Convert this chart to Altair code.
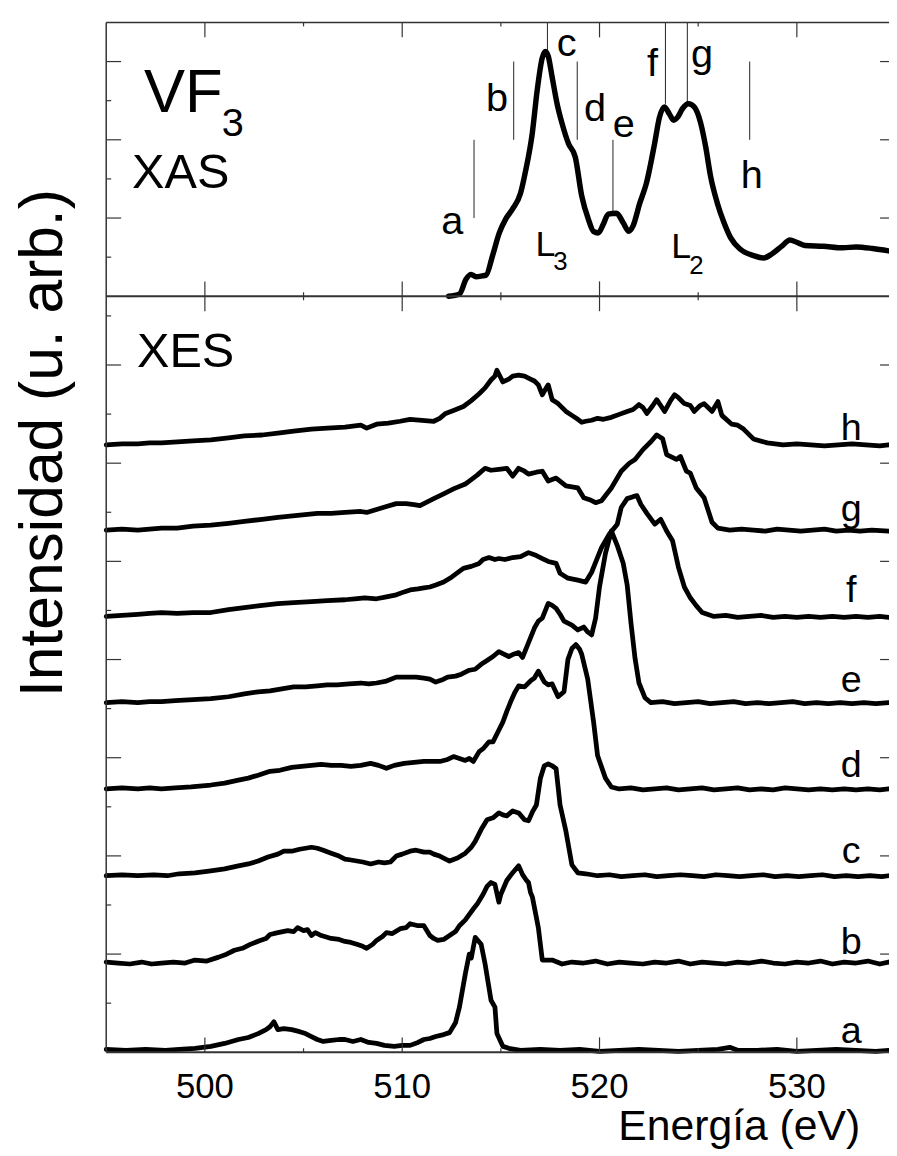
import altair as alt
import pandas as pd

# ---------------- data ----------------
ENERGY_MIN, ENERGY_MAX = 495.0, 534.67

# XAS spectrum (energy eV, intensity arb.)
XAS = [(512.35, 0.0), (512.9, 0.03), (513.24, 0.22), (513.49, 0.28), (513.74, 0.25), (514.05, 0.26),
       (514.25, 0.27), (514.58, 0.52), (514.92, 0.81), (515.25, 0.99), (515.58, 1.11), (516.0, 1.32),
       (516.26, 1.61), (516.59, 2.08), (516.84, 2.63), (517.1, 3.05), (517.26, 3.13), (517.4, 3.07),
       (517.6, 2.80), (517.85, 2.46), (518.1, 2.21), (518.43, 1.95), (518.77, 1.78), (519.1, 1.28),
       (519.44, 0.98), (519.69, 0.83), (519.94, 0.81), (520.19, 0.92), (520.44, 1.05), (520.86, 1.06),
       (521.2, 0.94), (521.48, 0.83), (521.7, 0.90), (522.04, 1.19), (522.37, 1.44), (522.79, 1.95),
       (523.04, 2.29), (523.29, 2.42), (523.54, 2.33), (523.76, 2.25), (523.96, 2.29), (524.21, 2.40),
       (524.5, 2.46), (524.8, 2.42), (525.13, 2.21), (525.38, 1.91), (525.63, 1.53), (525.97, 1.19),
       (526.31, 0.94), (526.64, 0.75), (527.14, 0.60), (527.81, 0.52), (528.32, 0.49), (528.73, 0.54),
       (529.24, 0.64), (529.65, 0.72), (529.99, 0.69), (530.41, 0.65), (531.33, 0.64), (532.34, 0.62),
       (533.0, 0.63), (533.85, 0.61), (534.65, 0.58)]

# XAS excitation energies (vertical markers) and their letters
MARK_LETTERS = ["a", "b", "c", "d", "e", "f", "g", "h"]
MARK_E = [513.64, 515.65, 517.36, 518.87, 520.68, 523.34, 524.45, 527.61]
MARK_LO = [1.0, 2.0, 3.13, 2.0, 1.07, 2.46, 2.46, 2.0]
MARK_HI = [2.0, 3.0, 3.5, 3.0, 2.0, 3.5, 3.5, 3.0]
LETTER_E = [512.54, 514.80, 518.34, 519.77, 521.23, 522.69, 525.20, 527.71]
LETTER_Y = [0.79, 2.37, 3.07, 2.24, 2.03, 2.81, 2.93, 1.38]

# XES spectra (energy eV, intensity above own baseline)
XES_A = [(495.0, 0.01), (496.0, 0.0), (497.0, 0.01), (498.0, 0.0), (498.7, 0.01), (499.5, 0.02), (500.3, 0.04),
         (501.0, 0.07), (501.7, 0.11), (502.2, 0.13), (502.7, 0.17), (503.1, 0.21), (503.3, 0.24), (503.5, 0.29),
         (503.7, 0.21), (504.0, 0.22), (504.4, 0.21), (504.8, 0.19), (505.1, 0.17), (505.4, 0.14), (505.7, 0.11),
         (506.0, 0.09), (506.4, 0.10), (506.8, 0.11), (507.1, 0.11), (507.5, 0.09), (507.9, 0.11), (508.3, 0.08),
         (508.7, 0.07), (509.1, 0.05), (509.6, 0.04), (510.0, 0.05), (510.4, 0.05), (510.8, 0.08), (511.1, 0.11),
         (511.4, 0.12), (511.7, 0.14), (512.1, 0.16), (512.4, 0.18), (512.7, 0.28), (512.9, 0.44), (513.2, 0.78),
         (513.4, 0.98), (513.5, 0.94), (513.7, 1.15), (514.0, 1.08), (514.2, 0.88), (514.5, 0.51), (514.7, 0.44),
         (514.8, 0.17), (515.1, 0.04), (515.4, 0.02), (516.0, 0.0), (517.0, 0.01), (518.0, 0.0), (519.0, 0.01),
         (520.0, -0.01), (521.0, 0.0), (522.0, 0.01), (523.0, 0.0), (524.0, -0.01), (525.0, 0.0), (526.0, 0.01),
         (526.6, 0.03), (527.0, 0.0), (528.0, 0.0), (529.0, 0.01), (530.0, -0.01), (531.0, 0.0), (532.0, 0.01),
         (533.0, 0.0), (534.0, -0.01), (534.65, 0.0)]
XES_B = [(495.0, 0.01), (495.6, 0.0), (496.2, -0.01), (496.8, 0.01), (497.3, -0.01), (497.8, 0.0), (498.4, 0.01),
         (499.0, 0.0), (499.5, 0.03), (500.1, 0.02), (500.7, 0.06), (501.1, 0.09), (501.5, 0.13), (501.9, 0.15),
         (502.3, 0.19), (502.8, 0.23), (503.1, 0.25), (503.3, 0.29), (503.7, 0.31), (504.2, 0.33), (504.5, 0.32),
         (504.7, 0.36), (505.0, 0.33), (505.2, 0.34), (505.4, 0.28), (505.6, 0.31), (505.9, 0.28), (506.4, 0.25),
         (506.8, 0.24), (507.1, 0.22), (507.4, 0.21), (507.7, 0.19), (508.0, 0.17), (508.2, 0.15), (508.5, 0.19),
         (508.7, 0.23), (509.0, 0.27), (509.2, 0.31), (509.5, 0.30), (509.9, 0.35), (510.2, 0.36), (510.4, 0.40),
         (510.8, 0.38), (511.1, 0.38), (511.4, 0.28), (511.6, 0.25), (511.8, 0.23), (512.1, 0.24), (512.4, 0.28),
         (512.7, 0.32), (512.9, 0.38), (513.2, 0.44), (513.6, 0.55), (513.8, 0.60), (514.1, 0.70), (514.3, 0.78),
         (514.5, 0.82), (514.7, 0.80), (514.9, 0.62), (515.0, 0.70), (515.3, 0.84), (515.6, 0.92), (515.9, 0.99),
         (516.1, 0.90), (516.3, 0.84), (516.4, 0.82), (516.5, 0.72), (516.6, 0.67), (516.9, 0.36), (517.1, 0.03),
         (517.6, 0.03), (518.1, -0.01), (518.6, 0.01), (519.2, 0.0), (519.8, 0.02), (520.4, -0.01), (521.0, 0.01),
         (521.6, 0.0), (522.2, -0.01), (522.8, 0.01), (523.4, 0.0), (524.0, 0.02), (524.6, -0.01), (525.2, 0.01),
         (525.8, 0.0), (526.4, -0.01), (527.0, 0.01), (527.6, 0.0), (528.2, 0.02), (528.8, 0.0), (529.4, -0.01),
         (530.0, 0.01), (530.6, 0.0), (531.2, 0.02), (531.8, -0.01), (532.4, 0.01), (533.0, 0.0), (533.6, 0.02),
         (534.2, -0.01), (534.65, 0.01)]
XES_C = [(495.0, 0.0), (495.8, 0.01), (496.6, 0.0), (497.4, 0.01), (498.1, 0.0), (498.7, 0.02), (499.5, 0.03),
         (500.3, 0.05), (501.0, 0.07), (501.7, 0.10), (502.2, 0.12), (502.7, 0.15), (503.2, 0.19), (503.7, 0.22),
         (504.0, 0.25), (504.4, 0.25), (504.8, 0.27), (505.1, 0.28), (505.4, 0.29), (505.7, 0.28), (506.0, 0.26),
         (506.4, 0.23), (506.8, 0.20), (507.1, 0.17), (507.4, 0.16), (507.7, 0.15), (508.0, 0.14), (508.4, 0.12),
         (508.8, 0.14), (509.1, 0.13), (509.4, 0.14), (509.7, 0.20), (510.0, 0.22), (510.4, 0.25), (510.7, 0.26),
         (511.1, 0.24), (511.4, 0.24), (511.6, 0.22), (511.9, 0.20), (512.1, 0.18), (512.4, 0.15), (512.8, 0.18),
         (513.2, 0.23), (513.5, 0.29), (513.7, 0.35), (514.0, 0.47), (514.3, 0.57), (514.6, 0.59), (514.9, 0.64),
         (515.1, 0.62), (515.3, 0.61), (515.6, 0.66), (515.9, 0.64), (516.2, 0.57), (516.4, 0.56), (516.6, 0.65),
         (516.8, 0.72), (517.0, 0.99), (517.2, 1.12), (517.4, 1.14), (517.6, 1.12), (517.8, 1.09), (518.0, 0.72),
         (518.3, 0.45), (518.6, 0.11), (518.9, 0.03), (519.3, 0.02), (519.9, 0.0), (520.5, 0.01), (521.1, -0.01),
         (521.7, 0.0), (522.3, 0.01), (522.9, -0.01), (523.5, 0.0), (524.1, 0.01), (524.7, 0.0), (525.3, -0.01),
         (525.9, 0.01), (526.5, 0.0), (527.1, -0.01), (527.7, 0.0), (528.3, 0.01), (528.9, -0.01), (529.5, 0.0),
         (530.1, -0.01), (530.7, 0.0), (531.3, 0.01), (531.9, -0.01), (532.5, 0.0), (533.1, -0.01), (533.7, 0.0),
         (534.3, -0.01), (534.65, 0.0)]
XES_D = [(495.0, 0.0), (495.8, 0.01), (496.6, 0.0), (497.2, 0.01), (497.8, 0.0), (498.5, 0.01), (499.3, 0.02),
         (500.3, 0.04), (501.0, 0.06), (501.7, 0.09), (502.2, 0.11), (502.7, 0.14), (503.3, 0.18), (503.8, 0.19),
         (504.4, 0.22), (504.9, 0.23), (505.4, 0.24), (505.9, 0.25), (506.4, 0.24), (506.9, 0.24), (507.4, 0.23),
         (507.9, 0.24), (508.4, 0.26), (508.8, 0.24), (509.2, 0.21), (509.6, 0.24), (510.1, 0.26), (510.6, 0.27),
         (511.1, 0.28), (511.6, 0.28), (511.9, 0.28), (512.3, 0.30), (512.6, 0.33), (512.9, 0.31), (513.2, 0.29),
         (513.4, 0.31), (513.6, 0.28), (513.9, 0.38), (514.1, 0.41), (514.4, 0.48), (514.6, 0.48), (514.9, 0.60),
         (515.1, 0.68), (515.3, 0.79), (515.5, 0.89), (515.7, 0.98), (515.9, 1.05), (516.2, 1.04), (516.5, 1.10),
         (516.7, 1.13), (516.9, 1.20), (517.2, 1.09), (517.4, 1.06), (517.6, 1.07), (517.9, 0.94), (518.2, 0.99),
         (518.4, 1.32), (518.6, 1.43), (518.8, 1.47), (519.0, 1.42), (519.1, 1.37), (519.4, 1.12), (519.7, 0.68),
         (519.9, 0.34), (520.3, 0.11), (520.6, 0.02), (521.0, 0.0), (521.6, 0.01), (522.2, -0.01), (522.8, 0.0),
         (523.4, 0.01), (524.0, -0.01), (524.6, 0.0), (525.2, 0.01), (525.8, -0.01), (526.4, 0.0), (527.0, 0.01),
         (527.6, -0.01), (528.2, 0.0), (528.8, -0.01), (529.4, 0.01), (530.0, 0.0), (530.6, -0.01), (531.2, 0.0),
         (531.8, -0.01), (532.4, 0.0), (533.0, -0.01), (533.6, 0.0), (534.2, -0.01), (534.65, 0.0)]
XES_E = [(495.0, 0.0), (495.8, 0.01), (496.6, 0.0), (497.2, 0.01), (497.8, 0.01), (498.5, 0.02), (499.4, 0.03),
         (500.3, 0.04), (501.2, 0.06), (502.0, 0.09), (502.7, 0.11), (503.3, 0.12), (503.9, 0.14), (504.5, 0.16),
         (505.1, 0.16), (505.7, 0.17), (506.2, 0.18), (506.7, 0.18), (507.3, 0.19), (507.9, 0.20), (508.3, 0.19),
         (508.7, 0.20), (509.2, 0.22), (509.7, 0.26), (510.2, 0.26), (510.7, 0.26), (511.1, 0.25), (511.4, 0.24),
         (511.7, 0.21), (512.0, 0.23), (512.3, 0.26), (512.7, 0.27), (513.0, 0.29), (513.4, 0.33), (513.7, 0.34),
         (514.0, 0.39), (514.3, 0.43), (514.6, 0.47), (514.9, 0.52), (515.1, 0.50), (515.4, 0.47), (515.6, 0.49),
         (515.9, 0.51), (516.1, 0.46), (516.3, 0.56), (516.5, 0.66), (516.7, 0.76), (516.9, 0.83), (517.1, 0.86),
         (517.4, 1.01), (517.6, 0.99), (517.8, 0.96), (518.0, 0.90), (518.2, 0.83), (518.4, 0.81), (518.6, 0.79),
         (518.9, 0.74), (519.2, 0.77), (519.4, 0.72), (519.6, 0.69), (519.8, 0.86), (520.0, 1.18), (520.3, 1.52),
         (520.6, 1.75), (520.9, 1.60), (521.2, 1.42), (521.4, 1.20), (521.6, 0.80), (521.8, 0.45), (522.0, 0.20),
         (522.3, 0.05), (522.6, 0.0), (523.2, 0.01), (523.8, -0.01), (524.4, 0.0), (525.0, 0.01), (525.6, -0.01),
         (526.2, 0.0), (526.8, 0.01), (527.4, -0.01), (528.0, 0.0), (528.6, -0.01), (529.2, 0.0), (529.8, 0.01),
         (530.4, -0.01), (531.0, 0.0), (531.6, -0.01), (532.2, 0.0), (532.8, -0.01), (533.4, 0.0), (534.0, -0.01),
         (534.65, 0.0)]
XES_F = [(495.0, 0.0), (495.8, 0.01), (496.6, 0.02), (497.2, 0.03), (497.8, 0.04), (498.6, 0.03), (499.4, 0.04),
         (500.3, 0.04), (501.2, 0.07), (502.0, 0.09), (502.8, 0.11), (503.7, 0.13), (504.5, 0.14), (505.4, 0.15),
         (506.2, 0.16), (507.1, 0.17), (507.6, 0.18), (508.1, 0.19), (508.7, 0.18), (509.2, 0.20), (509.7, 0.22),
         (510.1, 0.25), (510.4, 0.27), (510.8, 0.28), (511.1, 0.29), (511.4, 0.30), (511.7, 0.32), (512.1, 0.35),
         (512.5, 0.40), (513.1, 0.49), (513.5, 0.51), (513.9, 0.54), (514.1, 0.58), (514.4, 0.60), (514.7, 0.58),
         (514.9, 0.59), (515.2, 0.58), (515.6, 0.60), (516.0, 0.61), (516.4, 0.65), (516.8, 0.62), (517.1, 0.59),
         (517.4, 0.56), (517.8, 0.54), (518.0, 0.44), (518.4, 0.39), (518.9, 0.37), (519.3, 0.35), (519.6, 0.45),
         (519.8, 0.55), (520.1, 0.70), (520.5, 0.84), (520.9, 0.94), (521.1, 1.11), (521.4, 1.20), (521.7, 1.22),
         (521.9, 1.23), (522.1, 1.14), (522.4, 1.05), (522.8, 0.94), (523.1, 0.99), (523.4, 0.87), (523.7, 0.77),
         (524.0, 0.50), (524.3, 0.30), (524.6, 0.19), (524.9, 0.11), (525.2, 0.04), (525.8, 0.0), (526.4, 0.01),
         (527.0, -0.01), (527.6, 0.0), (528.2, 0.01), (528.8, -0.01), (529.4, 0.0), (530.0, -0.01), (530.6, 0.0),
         (531.2, -0.01), (531.8, 0.0), (532.4, -0.01), (533.0, 0.0), (533.6, -0.01), (534.2, 0.0), (534.65, -0.01)]
XES_G = [(495.0, 0.0), (495.8, 0.01), (496.6, 0.0), (497.2, 0.01), (497.8, 0.02), (498.6, 0.02), (499.4, 0.04),
         (500.3, 0.05), (501.2, 0.07), (502.0, 0.09), (502.9, 0.11), (503.7, 0.13), (504.7, 0.15), (505.7, 0.17),
         (506.4, 0.17), (507.1, 0.18), (507.9, 0.19), (508.2, 0.18), (508.7, 0.21), (509.2, 0.24), (509.7, 0.27),
         (510.2, 0.27), (510.6, 0.26), (510.9, 0.25), (511.2, 0.28), (511.6, 0.32), (512.1, 0.37), (512.6, 0.42),
         (513.2, 0.47), (513.4, 0.50), (513.8, 0.56), (514.2, 0.63), (514.5, 0.61), (514.9, 0.62), (515.3, 0.63),
         (515.6, 0.55), (515.9, 0.63), (516.2, 0.60), (516.4, 0.57), (516.8, 0.59), (517.1, 0.60), (517.4, 0.50),
         (517.8, 0.53), (518.3, 0.45), (518.9, 0.43), (519.2, 0.33), (519.5, 0.31), (519.8, 0.28), (520.1, 0.30),
         (520.6, 0.43), (521.1, 0.60), (521.5, 0.68), (521.8, 0.72), (522.2, 0.82), (522.6, 0.90), (522.9, 0.97),
         (523.2, 0.93), (523.4, 0.77), (523.9, 0.72), (524.1, 0.75), (524.4, 0.60), (524.6, 0.58), (524.9, 0.43),
         (525.3, 0.33), (525.7, 0.08), (526.0, 0.02), (526.6, 0.0), (527.2, 0.01), (527.8, 0.0), (528.4, -0.01),
         (529.0, 0.01), (529.6, 0.0), (530.2, -0.01), (530.8, 0.0), (531.4, 0.01), (532.0, -0.01), (532.6, 0.0),
         (533.2, -0.01), (533.8, 0.0), (534.65, -0.01)]
XES_H = [(495.0, 0.0), (495.8, 0.01), (496.6, 0.01), (497.2, 0.02), (497.8, 0.02), (498.6, 0.03), (499.4, 0.04),
         (500.3, 0.05), (501.2, 0.07), (502.0, 0.09), (502.9, 0.10), (503.7, 0.12), (504.5, 0.14), (505.4, 0.16),
         (506.2, 0.17), (507.1, 0.18), (507.9, 0.20), (508.2, 0.17), (508.7, 0.21), (509.3, 0.22), (509.9, 0.24),
         (510.4, 0.26), (511.0, 0.25), (511.6, 0.24), (511.9, 0.27), (512.2, 0.32), (512.6, 0.35), (513.1, 0.39),
         (513.5, 0.45), (513.9, 0.52), (514.2, 0.58), (514.5, 0.66), (514.7, 0.70), (514.8, 0.76), (515.0, 0.68),
         (515.1, 0.64), (515.4, 0.67), (515.6, 0.70), (515.9, 0.71), (516.2, 0.70), (516.5, 0.67), (516.7, 0.65),
         (516.9, 0.61), (517.1, 0.51), (517.3, 0.58), (517.4, 0.61), (517.6, 0.46), (517.9, 0.42), (518.3, 0.34),
         (518.6, 0.30), (518.9, 0.26), (519.1, 0.23), (519.3, 0.24), (519.6, 0.25), (519.9, 0.27), (520.2, 0.26),
         (520.6, 0.28), (521.0, 0.31), (521.4, 0.34), (521.7, 0.36), (522.0, 0.41), (522.2, 0.38), (522.4, 0.32),
         (522.7, 0.40), (522.9, 0.46), (523.1, 0.40), (523.3, 0.34), (523.6, 0.45), (523.8, 0.51), (524.0, 0.48),
         (524.3, 0.42), (524.6, 0.40), (524.8, 0.34), (525.1, 0.40), (525.3, 0.42), (525.5, 0.38), (525.7, 0.34),
         (526.0, 0.44), (526.2, 0.30), (526.7, 0.21), (527.0, 0.20), (527.3, 0.16), (527.8, 0.06), (528.5, 0.02),
         (529.3, 0.0), (530.0, 0.01), (530.7, 0.0), (531.4, -0.01), (532.1, 0.0), (532.8, 0.01), (533.5, 0.0),
         (534.2, -0.01), (534.65, 0.0)]

XES_NAMES = ["a", "b", "c", "d", "e", "f", "g", "h"]
XES_SPECTRA = [XES_A, XES_B, XES_C, XES_D, XES_E, XES_F, XES_G, XES_H]
XES_OFFSETS = [0.02, 0.909, 1.798, 2.682, 3.561, 4.439, 5.318, 6.187]
XES_LABEL_E = 532.75
XES_LABEL_Y = [0.09, 1.00, 1.93, 2.80, 3.67, 4.59, 5.41, 6.24]

X_MAJOR = [500, 510, 520, 530]
X_MINOR = [505, 515, 525]
XAS_Y_MAJOR = [1, 2, 3]
XAS_Y_MINOR = [0.5, 1.5, 2.5]
XES_Y_MAJOR = [1, 2, 3, 4, 5, 6, 7]
XES_Y_MINOR = [0.5, 1.5, 2.5, 3.5, 4.5, 5.5, 6.5, 7.5]

# ---------------- layout ----------------
FONT = "Liberation Sans"
W, H = 789, 1038
TOP_H = 276
FRAME = "#333333"

xs = alt.Scale(domain=[ENERGY_MIN, ENERGY_MAX], nice=False, zero=False)
ys_top = alt.Scale(domain=[0, 3.5], range=[TOP_H, 0], nice=False, zero=False)
ys_bot = alt.Scale(domain=[0, 7.7], range=[H, TOP_H], nice=False, zero=False)


def ex(field="e"):
    return alt.X(f"{field}:Q", scale=xs, axis=None)


def why(field, scale):
    return alt.Y(f"{field}:Q", scale=scale, axis=None)


def one(**kw):
    return alt.Chart(pd.DataFrame({k: [v] for k, v in kw.items()}))


def label(text, e, y, size, scale, align="left"):
    return one(t=text, e=e, y=y).mark_text(
        font=FONT, fontSize=size, align=align, baseline="alphabetic", color="black"
    ).encode(x=ex(), y=why("y", scale), text="t:N")


def yticks(values, scale, length, left=True):
    df = pd.DataFrame({"v": values})
    if left:
        xv, x2v = 0, length
    else:
        xv, x2v = W - length, W
    return alt.Chart(df).mark_rule(color=FRAME, strokeWidth=1.2).encode(
        y=why("v", scale), x=alt.value(xv), x2=alt.value(x2v))


def xticks(values, y0, y1):
    df = pd.DataFrame({"v": values})
    return alt.Chart(df).mark_rule(color=FRAME, strokeWidth=1.2).encode(
        x=ex("v"), y=alt.value(y0), y2=alt.value(y1))


# ---- XAS panel ----
xas_df = pd.DataFrame(XAS, columns=["e", "i"])
marks_df = pd.DataFrame({"e": MARK_E, "lo": MARK_LO, "hi": MARK_HI})
letters_df = pd.DataFrame({"e": LETTER_E, "y": LETTER_Y, "t": MARK_LETTERS})

top = alt.layer(
    alt.Chart(marks_df).mark_rule(color="#222222", strokeWidth=1).encode(
        x=ex(), y=why("lo", ys_top), y2="hi:Q"),
    alt.Chart(xas_df).mark_line(color="black", strokeWidth=5.5, interpolate="monotone",
                                strokeJoin="round", strokeCap="round").encode(
        x=ex(), y=why("i", ys_top)),
    alt.Chart(letters_df).mark_text(font=FONT, fontSize=40, align="center", baseline="alphabetic",
                                    color="black").encode(x=ex(), y=why("y", ys_top), text="t:N"),
    label("VF", 496.91, 2.357, 62, ys_top),
    label("3", 500.85, 2.053, 40, ys_top),
    label("XAS", 496.31, 1.381, 49, ys_top),
    label("L", 516.76, 0.52, 36, ys_top),
    label("3", 517.66, 0.34, 26, ys_top),
    label("L", 523.64, 0.49, 36, ys_top),
    label("2", 524.55, 0.29, 26, ys_top),
    yticks(XAS_Y_MAJOR, ys_top, 15),
    yticks(XAS_Y_MINOR, ys_top, 5),
    yticks(XAS_Y_MAJOR, ys_top, 9, left=False),
)

# ---- XES panel ----
rows = []
for name, spec, off in zip(XES_NAMES, XES_SPECTRA, XES_OFFSETS):
    for e, i in spec:
        rows.append({"curve": name, "e": e, "y": off + i})
xes_df = pd.DataFrame(rows)
xes_lab_df = pd.DataFrame({"t": XES_NAMES, "y": XES_LABEL_Y, "e": [XES_LABEL_E] * len(XES_NAMES)})

bottom = alt.layer(
    alt.Chart(xes_df).mark_line(color="black", strokeWidth=4.8, strokeJoin="round",
                                strokeCap="round").encode(
        x=ex(), y=why("y", ys_bot), detail="curve:N", order="e:Q"),
    alt.Chart(xes_lab_df).mark_text(font=FONT, fontSize=38, align="center", baseline="alphabetic",
                                    color="black").encode(x=ex(), y=why("y", ys_bot), text="t:N"),
    label("XES", 496.56, 6.98, 49, ys_bot),
    yticks(XES_Y_MAJOR, ys_bot, 15),
    yticks(XES_Y_MINOR, ys_bot, 5),
    yticks(XES_Y_MAJOR, ys_bot, 9, left=False),
)

# ---- frame, x ticks, x labels, titles ----
base = alt.Chart(pd.DataFrame({"k": [0]}))
tick_lab_df = pd.DataFrame({"v": X_MAJOR, "t": [str(v) for v in X_MAJOR]})

frame = alt.layer(
    base.mark_rule(color=FRAME, strokeWidth=1.5).encode(x=alt.value(0), x2=alt.value(0),
                                                        y=alt.value(0), y2=alt.value(H)),
    base.mark_rule(color=FRAME, strokeWidth=1.5).encode(x=alt.value(0), x2=alt.value(W),
                                                        y=alt.value(0), y2=alt.value(0)),
    base.mark_rule(color=FRAME, strokeWidth=2).encode(x=alt.value(0), x2=alt.value(W),
                                                      y=alt.value(TOP_H), y2=alt.value(TOP_H)),
    base.mark_rule(color=FRAME, strokeWidth=2).encode(x=alt.value(0), x2=alt.value(W),
                                                      y=alt.value(H), y2=alt.value(H)),
    xticks(X_MAJOR, 0, 15), xticks(X_MINOR, 0, 4),
    xticks(X_MAJOR, TOP_H - 15, TOP_H), xticks(X_MINOR, TOP_H - 4, TOP_H),
    xticks(X_MAJOR, TOP_H, TOP_H + 15), xticks(X_MINOR, TOP_H, TOP_H + 4),
    xticks(X_MAJOR, H - 15, H), xticks(X_MINOR, H - 4, H),
    alt.Chart(tick_lab_df).mark_text(font=FONT, fontSize=35, align="center", baseline="alphabetic",
                                     color="black").encode(x=ex("v"), y=alt.value(1084), text="t:N"),
    one(t="Energía (eV)", e=527.08).mark_text(font=FONT, fontSize=43, align="center",
                                             baseline="alphabetic", color="black").encode(
        x=ex(), y=alt.value(1126), text="t:N"),
    one(t="Intensidad (u. arb.)").mark_text(font=FONT, fontSize=61, align="center", baseline="middle",
                                            angle=270, color="black").encode(
        x=alt.value(-63), y=alt.value(424), text="t:N"),
)

chart = alt.layer(top, bottom, frame).resolve_scale(y="independent").properties(
    width=W, height=H,
    autosize=alt.AutoSizeParams(type="none"),
    padding={"left": 99, "top": 10, "right": 0, "bottom": 100},
).configure_view(stroke=None)

chart.save("out.html", embed_options={"renderer": "svg", "actions": False})
